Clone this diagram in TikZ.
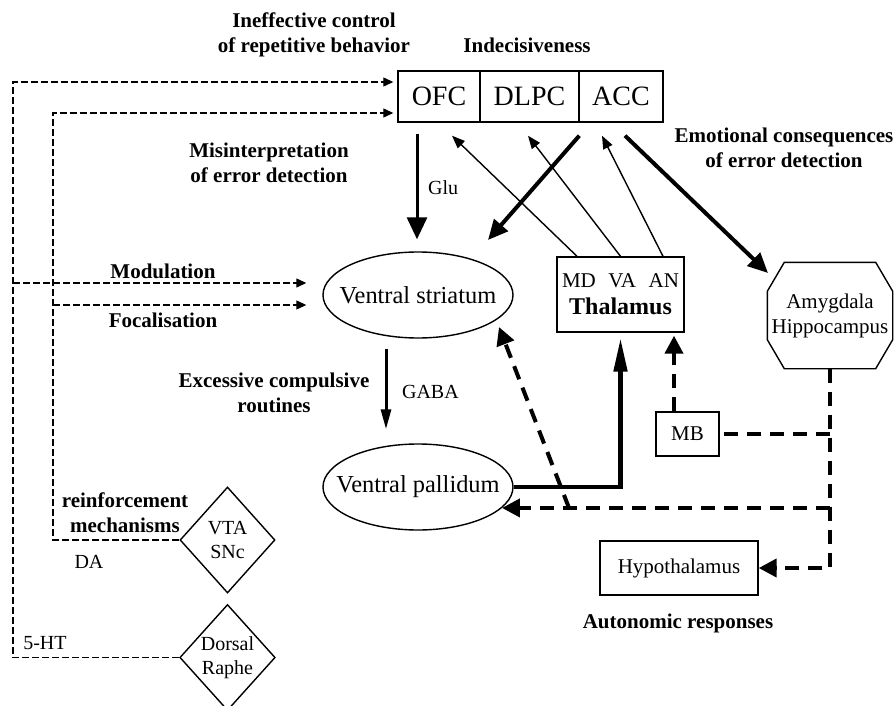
\documentclass[tikz,border=0pt]{standalone}
\usepackage{fontspec}
\setmainfont{Liberation Serif}
\usetikzlibrary{calc, positioning}
\usetikzlibrary{arrows.meta}
\usetikzlibrary{shapes.geometric}

\begin{document}
\begin{tikzpicture}[x=0.5pt, y=-0.5pt,
  cortex/.style={draw, line width=0.7pt, minimum height=25.5pt, inner sep=0pt,
    font=\fontsize{14}{16}\selectfont},
  nucleus/.style={draw, ellipse, line width=0.7pt, minimum width=95pt,
    minimum height=43pt, inner xsep=-8pt, inner ysep=0pt,
    font=\fontsize{12.2}{14}\selectfont},
  areabox/.style={draw, line width=0.7pt, inner sep=0pt, align=center,
    font=\fontsize{10.5}{12.5}\selectfont},
  stem/.style={draw, diamond, line width=0.7pt, minimum width=47.5pt,
    minimum height=53pt, inner sep=0pt, align=center,
    font=\fontsize{10}{12}\selectfont},
  note/.style={font=\bfseries\fontsize{10.5}{12.5}\selectfont, align=center},
  transmitter/.style={font=\fontsize{10}{12}\selectfont},
  thinpath/.style={line width=0.6pt, dash pattern=on 3.5pt off 1.5pt,
    -{Triangle[length=5pt, width=4.5pt]}},
  fibre/.style={line width=0.7pt, -{Triangle[length=6.5pt, width=5pt]}},
  strong/.style={line width=2pt, -{Triangle[length=10pt, width=9pt]}},
  limbic/.style={line width=2pt, dash pattern=on 7pt off 4.5pt},
  limbictip/.style={limbic, -{Triangle[length=9pt, width=9pt]}},
]
\useasboundingbox (0,0) rectangle (895,706);

% cortex
\node[cortex, minimum width=41pt] (OFC) at (439,96.5) {OFC};
\node[cortex, minimum width=49.5pt, right=-0.7pt of OFC] (DLPC) {DLPC};
\node[cortex, minimum width=42pt, right=-0.7pt of DLPC] (ACC) {ACC};

% basal ganglia, thalamus, limbic
\node[nucleus] (VStriatum) at (418,295) {Ventral striatum};
\node[nucleus] (VPallidum) at (418,487) {Ventral pallidum};
\node[areabox, minimum width=63.5pt, minimum height=37.5pt] (Thalamus)
  at (620.5,294.5) {MD\hspace{0.6em}VA\hspace{0.6em}AN\\[1pt]%
  {\bfseries\fontsize{12}{14}\selectfont Thalamus}};
\node[areabox, draw=none, minimum width=62pt, minimum height=52.5pt]
  (Amygdala) at (830,315.5) {Amygdala\\Hippocampus};
\draw[line width=0.7pt] ($(Amygdala.north west)+(17,0)$)
  -- ($(Amygdala.north east)+(-17,0)$) -- ($(Amygdala.north east)+(0,29)$)
  -- ($(Amygdala.south east)+(0,-29)$) -- ($(Amygdala.south east)+(-17,0)$)
  -- ($(Amygdala.south west)+(17,0)$) -- ($(Amygdala.south west)+(0,-29)$)
  -- ($(Amygdala.north west)+(0,29)$) -- cycle;
\node[areabox, minimum width=31.5pt, minimum height=22pt] (MB) at (687.5,434) {MB};
\node[areabox, minimum width=79pt, minimum height=27pt] (Hypo) at (679,568) {Hypothalamus};
\node[stem] (VTA) at (227.5,540) {VTA\\SNc};
\node[stem] (Raphe) at (227.5,657.5) {Dorsal\\Raphe};

% labels
\node[note] (Ineffective) at (314,35) {Ineffective control\\of repetitive behavior};
\node[note] (Indecision) at (527,45) {Indecisiveness};
\node[note] (Misinterp) at (269,163) {Misinterpretation\\of error detection};
\node[note] (Emotional) at (784,148) {Emotional consequences\\of error detection};
\node[note] (Modulation) at (163,271) {Modulation};
\node[note] (Focal) at (163,320) {Focalisation};
\node[note] (Excessive) at (274,393) {Excessive compulsive\\routines};
\node[note] (Reinforce) at (125,513) {reinforcement\\mechanisms};
\node[note] (Autonomic) at (678,623) {Autonomic responses};
\node[transmitter, anchor=west] (GluLabel) at (421,188) {Glu};
\node[transmitter, anchor=west] (GabaLabel) at (395,392) {GABA};
\node[transmitter] (DALabel) at (89,562) {DA};
\node[transmitter] (HTLabel) at (45,643) {5-HT};

% monoamine inputs
\coordinate (OuterX) at (13,0);
\coordinate (InnerX) at (53,0);
\coordinate (OFCtop) at ($(OFC.west)+(-4,-14.5)$);
\coordinate (OFCbottom) at ($(OFC.west)+(-4,16.5)$);
\coordinate (VSupper) at ($(VStriatum.west)+(-16,-12)$);
\coordinate (VSlower) at ($(VStriatum.west)+(-16,10)$);
\draw[thinpath] (Raphe.west) -| (OuterX |- OFCtop) -- (OFCtop);
\draw[thinpath] (OuterX |- VSupper) -- (VSupper);
\draw[thinpath] (VTA.west) -| (InnerX |- OFCbottom) -- (OFCbottom);
\draw[thinpath] (InnerX |- VSlower) -- (VSlower);

% cortico-striatal loop
\draw[line width=1.5pt, -{Triangle[length=11pt, width=10pt]}]
  ($(OFC.south)+(-22,11)$) -- ($(VStriatum.north)+(-1,-12)$);
\draw[strong] ($(ACC.south west)+(1,13)$) -- ($(VStriatum.center)+(70,-55)$);
\draw[strong] ($(ACC.south)+(4,13)$) -- ($(Amygdala.center)+(-62,-42.5)$);
\draw[fibre] ($(Thalamus.north)+(-43.5,0)$) -- ($(OFC.south)+(13,13)$);
\draw[fibre] (Thalamus.north) -- ($(DLPC.south)+(-1.5,13)$);
\draw[fibre] ($(Thalamus.north)+(42.5,0)$) -- ($(ACC.south)+(-19,13)$);
\draw[line width=1.5pt, -{Triangle[length=10pt, width=5pt]}]
  ($(VStriatum.south)+(-32,10)$) -- ($(VPallidum.north)+(-32,-14)$);
\draw[line width=2.4pt, -{Triangle[length=17pt, width=6.5pt]}, shorten >=2.5pt]
  (VPallidum.east) -| (Thalamus.south);

% limbic outputs
\coordinate (VPin) at (VPallidum.-14.5);
\coordinate (Split) at ($(VPin)+(67,0)$);
\coordinate (MBtop) at ($(MB.north)+(-13.5,0)$);
\draw[limbictip] (Amygdala.south) |- (Hypo.east);
\draw[limbic] (Amygdala.south |- MB.east) -- (MB.east);
\draw[limbictip] (Amygdala.south |- VPin) -- (VPin);
\draw[limbictip] (Split) -- ($(VStriatum.center)+(81,32)$);
\draw[limbictip, shorten >=1.5pt] (MBtop) -- (MBtop |- Thalamus.south);
\end{tikzpicture}
\end{document}
